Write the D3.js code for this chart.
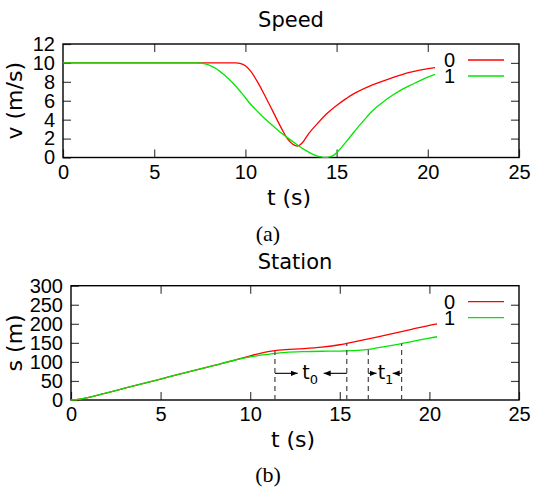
<!DOCTYPE html>
<html>
<head>
<meta charset="utf-8">
<script src="https://cdn.jsdelivr.net/npm/d3@7"></script>
<style>
  body { margin: 0; background: #fff; }
  svg { display: block; }
  .tick text { font-family: "Liberation Sans", Arial, sans-serif; font-size: 20px; fill: #000; }
  .tick line { stroke: #444; stroke-width: 1.2; }
  .domain { display: none; }
</style>
</head>
<body>
<svg id="chart" width="533" height="488"></svg>
<script>
// speed curves (t in s, v in m/s)
const speedT0 = [0, 4, 8, 9.4, 9.7, 10, 10.3, 10.6, 11, 11.5, 12, 12.3, 12.6, 12.85, 13.1, 13.5, 14, 14.5, 15, 15.5, 16, 17, 18, 19, 20.4];
const speedV0 = [10, 10, 10, 10, 9.95, 9.7, 9.1, 8.2, 6.8, 4.9, 3.0, 2.0, 1.4, 1.2, 1.5, 2.6, 3.7, 4.7, 5.5, 6.2, 6.8, 7.7, 8.4, 9.0, 9.5];
const speedT1 = [0, 3, 6, 7.35, 7.8, 8.3, 8.8, 9.3, 9.8, 10.3, 10.8, 11.3, 11.8, 12.3, 12.8, 13.3, 13.8, 14.2, 14.5, 14.8, 15.1, 15.5, 16, 16.5, 17, 17.5, 18, 18.5, 19, 19.5, 20, 20.4];
const speedV1 = [10, 10, 10, 10, 9.9, 9.5, 8.8, 7.9, 6.8, 5.6, 4.6, 3.7, 2.85, 2.1, 1.4, 0.75, 0.25, 0.03, 0.02, 0.2, 0.7, 1.6, 2.8, 3.95, 5.0, 5.8, 6.5, 7.1, 7.6, 8.05, 8.5, 8.8];

// station curves (t in s, s in m)
const stT0 = [0, 0.5, 1, 1.5, 2, 3, 4, 5, 6, 7, 8, 9, 10, 10.5, 11, 11.38, 12, 13, 14, 15, 15.39, 16, 17, 18, 19, 20, 20.43];
const stS0 = [0, 2, 7, 12.5, 19, 31, 43, 55, 67, 79, 91, 103, 116, 122, 127, 129.5, 132, 135, 139, 145, 148.5, 154.5, 164.5, 175, 185.5, 196, 200];
const stT1 = [0, 0.5, 1, 1.5, 2, 3, 4, 5, 6, 7, 8, 9, 10, 10.5, 11, 11.38, 12, 13, 14, 15, 15.39, 16, 16.59, 17, 18, 18.45, 19, 20, 20.43];
const stS1 = [0, 2, 7, 12.5, 19, 31, 43, 55, 67, 79, 91, 103, 113, 117, 120, 122, 125, 127, 128, 128.5, 129, 130.5, 133, 136, 144, 148, 153.5, 162.5, 166];

// dashed markers and interval arrows on the station plot
const markT = [11.38, 15.39, 16.59, 18.45];
const markS = [129.5, 148.5, 133, 148];
const arrowFrom = [11.38, 15.39, 16.59, 18.45];
const arrowTo = [12.65, 14.1, 17.05, 17.95];
const arrowS = 70;
const gapLabels = ["0", "1"];
const gapLabelT = [13.34, 17.55];

const seriesNames = ["0", "1"];
const colors = ["#ff0000", "#00e600"];
const xTicks = [0, 5, 10, 15, 20, 25];
const speedTicks = [0, 2, 4, 6, 8, 10, 12];
const stationTicks = [0, 50, 100, 150, 200, 250, 300];

const svg = d3.select("#chart");

svg.append("defs").append("marker")
    .attr("id", "head")
    .attr("viewBox", "0 0 10 10")
    .attr("refX", 10).attr("refY", 5)
    .attr("markerWidth", 7).attr("markerHeight", 7)
    .attr("markerUnits", "userSpaceOnUse")
    .attr("orient", "auto")
  .append("path")
    .attr("d", "M0,1 L10,5 L0,9 Z")
    .attr("fill", "#000");

const zip = (xs, ys) => xs.map((x, i) => [x, ys[i]]);

// draws one gnuplot-like panel
function panel(cfg) {
    const x = d3.scaleLinear().domain([0, 25]).range([cfg.left, cfg.right]);
    const y = d3.scaleLinear().domain(cfg.yDomain).range([cfg.bottom, cfg.top]);
    const g = svg.append("g");

    g.append("g").attr("transform", `translate(0,${cfg.bottom})`)
        .call(d3.axisBottom(x).tickValues(xTicks).tickSize(-8).tickPadding(7).tickFormat(d3.format("d")));
    g.append("g").attr("transform", `translate(0,${cfg.top})`)
        .call(d3.axisTop(x).tickValues(xTicks.slice(1, -1)).tickSize(-8).tickFormat(""));
    g.append("g").attr("transform", `translate(${cfg.left},0)`)
        .call(d3.axisLeft(y).tickValues(cfg.yTicks).tickSize(-8).tickPadding(8).tickFormat(d3.format("d")));
    g.append("g").attr("transform", `translate(${cfg.right},0)`)
        .call(d3.axisRight(y).tickValues(cfg.yTicks.slice(1, -1)).tickSize(-8).tickFormat(""));

    g.append("rect")
        .attr("x", cfg.left).attr("y", cfg.top)
        .attr("width", cfg.right - cfg.left).attr("height", cfg.bottom - cfg.top)
        .attr("fill", "none").attr("stroke", "#000").attr("stroke-width", 1.4);

    const line = d3.line().x(d => x(d[0])).y(d => y(d[1])).curve(d3.curveCatmullRom.alpha(0.5));
    cfg.series.forEach((s, i) => {
        g.append("path").datum(s)
            .attr("d", line)
            .attr("fill", "none")
            .attr("stroke", colors[i])
            .attr("stroke-width", 1.3);
    });

    // legend
    seriesNames.forEach((name, i) => {
        const ly = cfg.legendY + i * 16;
        g.append("text")
            .attr("x", 455).attr("y", ly + 7)
            .attr("text-anchor", "end")
            .style("font-family", "Liberation Sans, Arial, sans-serif")
            .style("font-size", "20px")
            .text(name);
        g.append("line")
            .attr("x1", 468).attr("x2", 504)
            .attr("y1", ly).attr("y2", ly)
            .attr("stroke", colors[i]).attr("stroke-width", 1.3);
    });

    g.append("text")
        .attr("x", (cfg.left + cfg.right) / 2).attr("y", cfg.top - 17)
        .attr("text-anchor", "middle")
        .style("font-family", "DejaVu Sans, sans-serif").style("font-size", "21px")
        .text(cfg.title);
    g.append("text")
        .attr("x", (cfg.left + cfg.right) / 2 - 2).attr("y", cfg.bottom + 47)
        .attr("text-anchor", "middle")
        .style("font-family", "DejaVu Sans, sans-serif").style("font-size", "22px")
        .text("t (s)");
    g.append("text")
        .attr("transform", `translate(22,${(cfg.top + cfg.bottom) / 2}) rotate(-90)`)
        .attr("text-anchor", "middle")
        .style("font-family", "DejaVu Sans, sans-serif").style("font-size", "22px")
        .text(cfg.yLabel);
    g.append("text")
        .attr("x", 268).attr("y", cfg.captionY)
        .attr("text-anchor", "middle")
        .style("font-family", "Liberation Serif, Times New Roman, serif").style("font-size", "22px")
        .text(cfg.caption);

    return { g, x, y };
}

panel({
    left: 63, right: 519, top: 44, bottom: 157.5,
    yDomain: [0, 12], yTicks: speedTicks,
    series: [zip(speedT0, speedV0), zip(speedT1, speedV1)],
    legendY: 60, title: "Speed", yLabel: "v (m/s)", caption: "(a)", captionY: 241
});

const st = panel({
    left: 71, right: 519, top: 285.7, bottom: 400,
    yDomain: [0, 300], yTicks: stationTicks,
    series: [zip(stT0, stS0), zip(stT1, stS1)],
    legendY: 301.7, title: "Station", yLabel: "s (m)", caption: "(b)", captionY: 482
});

// dashed verticals
markT.forEach((t, i) => {
    st.g.append("line")
        .attr("x1", st.x(t)).attr("x2", st.x(t))
        .attr("y1", st.y(0)).attr("y2", st.y(markS[i]))
        .attr("stroke", "#444").attr("stroke-width", 1.2)
        .attr("stroke-dasharray", "5,4");
});

// interval arrows
arrowFrom.forEach((t, i) => {
    st.g.append("line")
        .attr("x1", st.x(t)).attr("x2", st.x(arrowTo[i]))
        .attr("y1", st.y(arrowS)).attr("y2", st.y(arrowS))
        .attr("stroke", "#000").attr("stroke-width", 1.1)
        .attr("marker-end", "url(#head)");
});

gapLabels.forEach((lab, i) => {
    const txt = st.g.append("text")
        .attr("x", st.x(gapLabelT[i])).attr("y", st.y(arrowS) + 6)
        .attr("text-anchor", "middle")
        .style("font-family", "DejaVu Sans, sans-serif").style("font-size", "19px");
    txt.append("tspan").text("t");
    txt.append("tspan").attr("dy", 5).style("font-size", "13px").text(lab);
});
</script>
</body>
</html>
